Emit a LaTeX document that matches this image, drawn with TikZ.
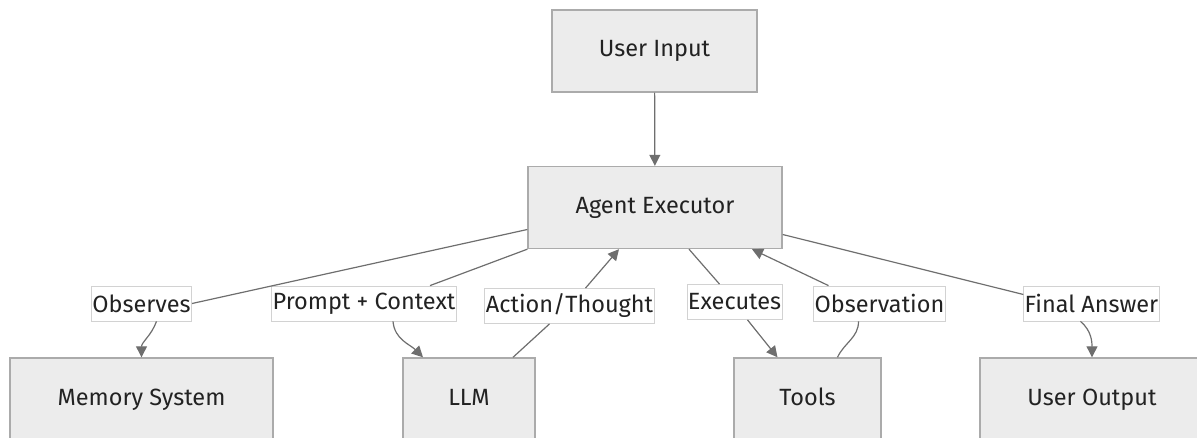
\documentclass[tikz,border=0pt]{standalone}
\usepackage{fontspec}
\setmainfont{Fira Sans}
\usetikzlibrary{arrows.meta,positioning}
\definecolor{agfill}{HTML}{ECECEC}
\definecolor{agstroke}{HTML}{ABABAB}
\definecolor{agline}{HTML}{6E6E6E}
\definecolor{aglabel}{HTML}{D2D2D2}
\definecolor{agtext}{HTML}{222222}

\begin{document}
\begin{tikzpicture}[x=1pt,y=-1pt,>={Triangle[length=11pt,width=11pt]},
  box/.style={draw=agstroke,line width=1.4pt,fill=agfill,minimum height=82pt,text height=17pt,text depth=5pt,text=agtext,font=\fontsize{23.5}{28}\selectfont},
  lbl/.style={draw=aglabel,line width=0.8pt,fill=white,inner xsep=1pt,minimum height=35pt,text=agtext,font=\fontsize{23.5}{28}\selectfont},
  edge/.style={agline,line width=1.2pt}]
\clip (0,0) rectangle (1197,438);
% boxes
\node[box,minimum width=205pt](ui) at (654.5,51){User Input};
\node[box,minimum width=254pt](ae) at (655,207.5){Agent Executor};
\node[box,minimum width=263pt](mem) at (141.5,399){Memory System};
\node[box,minimum width=132pt](llm) at (469,399){LLM};
\node[box,minimum width=147pt](tools) at (807.5,399){Tools};
\node[box,minimum width=224pt](uout) at (1092,399){User Output};
% edge labels
\node[lbl](obs) at (141.5,303.5){Observes};
\node[lbl](pc) at (364,303.5){Prompt + Context};
\node[lbl](at) at (569.5,306){Action/Thought};
\node[lbl](ex) at (734.5,302){Executes};
\node[lbl](ob) at (879.5,303.5){Observation};
\node[lbl](fa) at (1091.5,303.5){Final Answer};
% connectors
\draw[edge,->] (ui) -- (ae);
\draw[edge] ([yshift=-22pt]ae.west) -- (obs.east);
\draw[edge,->] ([xshift=15pt]obs.south) to[out=-110,in=90] (mem.north);
\draw[edge] (ae.south west) -- ([xshift=66pt]pc.north);
\draw[edge,->] ([xshift=29pt]pc.south) to[out=-85,in=135] ([xshift=-46pt]llm.north);
\draw[edge] ([xshift=44pt]llm.north) -- ([xshift=-20pt]at.south);
\draw[edge,->] ([xshift=16pt]at.north) -- ([xshift=-36pt]ae.south);
\draw[edge] ([xshift=34pt]ae.south) -- ([xshift=-15pt]ex.north);
\draw[edge,->] ([xshift=13pt]ex.south) -- ([xshift=-30pt]tools.north);
\draw[edge] ([xshift=30pt]tools.north) to[out=65,in=-90] ([xshift=-21pt]ob.south);
\draw[edge,->] ([xshift=-51pt]ob.north) -- ([xshift=97pt]ae.south);
\draw[edge] ([yshift=-27pt]ae.east) -- ([yshift=9pt]fa.west);
\draw[edge,->] ([xshift=-11pt]fa.south) to[out=-40,in=90] (uout.north);
\end{tikzpicture}
\end{document}
